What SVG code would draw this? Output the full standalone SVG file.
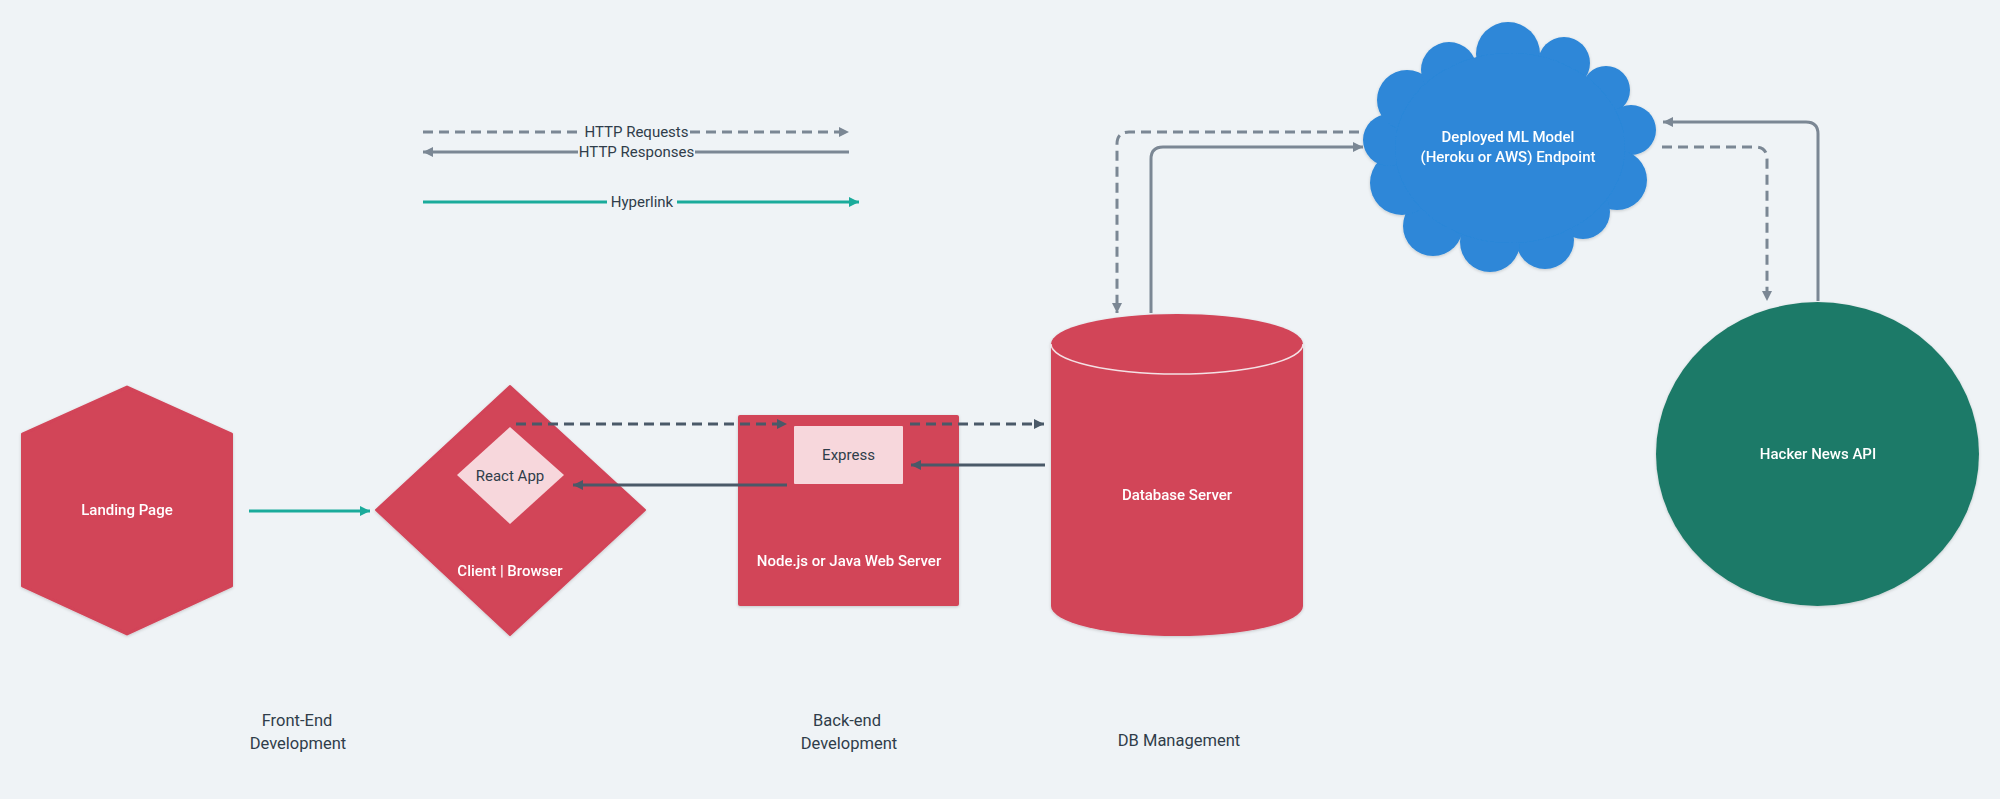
<svg xmlns="http://www.w3.org/2000/svg" width="2000" height="799" viewBox="0 0 2000 799">
<style>
text{font-family:Roboto,"Liberation Sans",sans-serif;text-anchor:middle}
.nl{fill:#ffffff;font-size:15px;font-weight:500}
.dl{fill:#2f3d4a;font-size:15px;font-weight:400}
.lg{fill:#2f3d4a;font-size:15px}
.ft{fill:#2f3d4a;font-size:16.5px}
.red{fill:#d24459}
.gray{fill:none;stroke:#7b8794;stroke-width:3}
.dark{fill:none;stroke:#4a5968;stroke-width:3}
.teal{fill:none;stroke:#1aab9b;stroke-width:3}
.dash{stroke-dasharray:10 6}
</style>
<defs>
<filter id="sh" x="-10%" y="-10%" width="120%" height="120%">
<feDropShadow dx="0" dy="1" stdDeviation="1.5" flood-color="#000" flood-opacity="0.18"/>
</filter>
<marker id="ag" viewBox="0 0 10 10" refX="10" refY="5" markerWidth="10" markerHeight="11" markerUnits="userSpaceOnUse" orient="auto"><path d="M0,0 L10,5 L0,10 z" fill="#7b8794"/></marker>
<marker id="ad" viewBox="0 0 10 10" refX="10" refY="5" markerWidth="10" markerHeight="11" markerUnits="userSpaceOnUse" orient="auto"><path d="M0,0 L10,5 L0,10 z" fill="#4a5968"/></marker>
<marker id="at" viewBox="0 0 10 10" refX="10" refY="5" markerWidth="10" markerHeight="11" markerUnits="userSpaceOnUse" orient="auto"><path d="M0,0 L10,5 L0,10 z" fill="#1aab9b"/></marker>
</defs>
<rect x="0" y="0" width="2000" height="799" fill="#eff3f6"/>

<g id="legend">
<path class="gray dash" d="M423,132 H583"/>
<path class="gray dash" d="M690,132 H849" marker-end="url(#ag)"/>
<text class="lg" x="636.5" y="137">HTTP Requests</text>
<path class="gray" d="M578,152 H423" marker-end="url(#ag)"/>
<path class="gray" d="M695,152 H849"/>
<text class="lg" x="636.5" y="157">HTTP Responses</text>
<path class="teal" d="M423,202 H607"/>
<path class="teal" d="M677,202 H859" marker-end="url(#at)"/>
<text class="lg" x="642" y="207">Hyperlink</text>
</g>

<g id="landing-page" filter="url(#sh)">
<polygon class="red" points="127,387 231.5,434 231.5,586 127,634 22.5,586 22.5,434" stroke="#d24459" stroke-width="3" stroke-linejoin="round"/>
<text class="nl" x="127" y="515">Landing Page</text>
</g>

<g id="client-browser" filter="url(#sh)">
<polygon class="red" points="510,386 645,510 510,635 376,510" stroke="#d24459" stroke-width="2" stroke-linejoin="round"/>
<text class="nl" x="510" y="576">Client | Browser</text>
</g>

<g id="react-app">
<polygon fill="#f7d7dc" points="510,427 564,475 510,524 457,475"/>
<text class="dl" x="510" y="481">React App</text>
</g>

<g id="web-server" filter="url(#sh)">
<rect class="red" x="738" y="415" width="221" height="191" rx="2"/>
<text class="nl" x="849" y="566">Node.js or Java Web Server</text>
</g>

<g id="express">
<rect fill="#f7d7dc" x="794" y="426" width="109" height="58" rx="1"/>
<text class="dl" x="848.5" y="460">Express</text>
</g>

<g id="database-server" filter="url(#sh)">
<path class="red" d="M1051,344 A126,30 0 0 1 1303,344 V606 A126,30 0 0 1 1051,606 Z"/>
<path d="M1051,344 A126,30 0 0 0 1303,344" fill="none" stroke="#f4e1e4" stroke-width="1.5"/>
<text class="nl" x="1177" y="500">Database Server</text>
</g>

<g id="ml-model" fill="#2d87d8" filter="url(#sh)">
<circle cx="1508" cy="54" r="32"/>
<circle cx="1564" cy="63" r="26"/>
<circle cx="1606" cy="90" r="24"/>
<circle cx="1631" cy="130" r="25"/>
<circle cx="1617" cy="180" r="30"/>
<circle cx="1583" cy="212" r="27"/>
<circle cx="1545" cy="240" r="29"/>
<circle cx="1490" cy="242" r="30"/>
<circle cx="1433" cy="226" r="30"/>
<circle cx="1402" cy="183" r="32"/>
<circle cx="1389" cy="140" r="26"/>
<circle cx="1407" cy="100" r="30"/>
<circle cx="1449" cy="70" r="28"/>
<ellipse cx="1510" cy="148" rx="115" ry="95"/>
<text class="nl" x="1508" y="142">Deployed ML Model</text>
<text class="nl" x="1508" y="162">(Heroku or AWS) Endpoint</text>
</g>

<g id="hacker-news-api" filter="url(#sh)">
<ellipse fill="#1f7a67" cx="1817.5" cy="454" rx="161.5" ry="152"/>
<text class="nl" x="1818" y="459">Hacker News API</text>
</g>

<g id="connectors">
<path class="teal" d="M249,511 H370" marker-end="url(#at)"/>
<path class="dark dash" d="M516,424 H787" marker-end="url(#ad)"/>
<path class="dark dash" d="M910,424 H1044" marker-end="url(#ad)"/>
<path class="dark" d="M1045,465 H911" marker-end="url(#ad)"/>
<path class="dark" d="M787,485 H573" marker-end="url(#ad)"/>
<path class="gray dash" d="M1359,132 H1129 Q1117,132 1117,144 V313" marker-end="url(#ag)"/>
<path class="gray" d="M1151,313 V159 Q1151,147 1163,147 H1363" marker-end="url(#ag)"/>
<path class="gray" d="M1818,301 V134 Q1818,122 1806,122 H1663" marker-end="url(#ag)"/>
<path class="gray dash" d="M1662,147 H1755 Q1767,147 1767,159 V301" marker-end="url(#ag)"/>
</g>

<g id="labels">
<text class="ft" x="297" y="726">Front-End</text>
<text class="ft" x="298" y="749">Development</text>
<text class="ft" x="847" y="726">Back-end</text>
<text class="ft" x="849" y="749">Development</text>
<text class="ft" x="1179" y="746">DB Management</text>
</g>
</svg>
